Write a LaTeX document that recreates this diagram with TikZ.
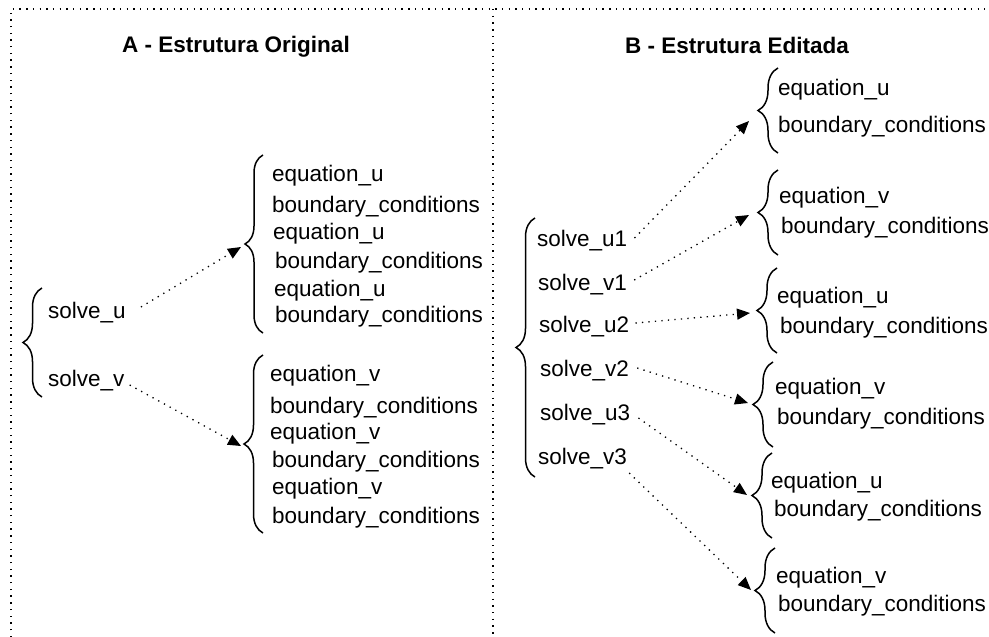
\documentclass[tikz,border=0pt]{standalone}
\usepackage{fontspec}
\setmainfont{Liberation Sans}
\usetikzlibrary{arrows.meta,decorations.pathreplacing}

\begin{document}
\begin{tikzpicture}[x=1pt,y=-1pt,
  lbl/.style={inner sep=0pt,anchor=west,text height=16pt,text depth=4pt,
    font=\fontsize{22.5}{27}\selectfont},
  ttl/.style={inner sep=0pt,font=\fontsize{22.5}{27}\selectfont\bfseries},
  frame/.style={line width=1.4pt,dash pattern=on 1.4pt off 5.3pt},
  conn/.style={line width=1.3pt,dash pattern=on 1.3pt off 5.2pt,
    -{Triangle[length=13pt,width=11pt]}},
  curly/.style={line width=1.5pt,decorate,
    decoration={brace,amplitude=#1,raise=0pt}},
  curly/.default=19pt]

\useasboundingbox (0,0) rectangle (989,637);

% dotted frame and panel divider
\draw[frame] (11,637) -- (11,9) -- (985,9);
\draw[frame] (493,9) -- (493,637);

% ---------- panel A ----------
\node[ttl] (ta) at (236,47) {A - Estrutura Original};

\draw[curly] (42,397) -- (42,288);
\node[lbl] (su) at (48,312) {solve\_u};
\node[lbl] (sv) at (48,380) {solve\_v};

\draw[curly=18pt] (263,333) -- (263,155);
\coordinate (tua) at (241,247);
\node[lbl] (a1) at (272,175) {equation\_u};
\node[lbl] (a2) at (272,206) {boundary\_conditions};
\node[lbl] (a3) at (273,233) {equation\_u};
\node[lbl] (a4) at (275,262) {boundary\_conditions};
\node[lbl] (a5) at (274,290) {equation\_u};
\node[lbl] (a6) at (275,316) {boundary\_conditions};

\draw[curly=19pt] (263,533) -- (263,355);
\coordinate (tva) at (241,446);
\node[lbl] (b1) at (270,375) {equation\_v};
\node[lbl] (b2) at (270,407) {boundary\_conditions};
\node[lbl] (b3) at (270,433) {equation\_v};
\node[lbl] (b4) at (272,461) {boundary\_conditions};
\node[lbl] (b5) at (272,488) {equation\_v};
\node[lbl] (b6) at (272,517) {boundary\_conditions};

\draw[conn] ([shift={(15,-5)}]su.east) -- (tua);
\draw[conn] ([shift={(5,5)}]sv.east) -- (tva);

% ---------- panel B ----------
\node[ttl] (tb) at (737,45) {B - Estrutura Editada};

\draw[curly] (535,477) -- (535,218);
\node[lbl] (s1) at (537,240) {solve\_u1};
\node[lbl] (s2) at (538,284) {solve\_v1};
\node[lbl] (s3) at (539,326) {solve\_u2};
\node[lbl] (s4) at (540,370) {solve\_v2};
\node[lbl] (s5) at (540,414) {solve\_u3};
\node[lbl] (s6) at (538,458) {solve\_v3};

% six target groups: brace back x, top, bottom, text x (two lines)
\draw[curly=20pt] (778,153) -- (778,68);
\node[lbl] (c1) at (778,89) {equation\_u};
\node[lbl] (d1) at (778,126) {boundary\_conditions};
\coordinate (e1) at (749,121);

\draw[curly=20pt] (778,255) -- (778,170);
\node[lbl] (c2) at (779,197) {equation\_v};
\node[lbl] (d2) at (781,227) {boundary\_conditions};
\coordinate (e2) at (749,215);

\draw[curly=20pt] (777,353) -- (777,268);
\node[lbl] (c3) at (777,297) {equation\_u};
\node[lbl] (d3) at (780,327) {boundary\_conditions};
\coordinate (e3) at (750,313);

\draw[curly=20pt] (773,447) -- (773,362);
\node[lbl] (c4) at (775,388) {equation\_v};
\node[lbl] (d4) at (777,418) {boundary\_conditions};
\coordinate (e4) at (748,403);

\draw[curly=20pt] (772,538) -- (772,453);
\node[lbl] (c5) at (771,482) {equation\_u};
\node[lbl] (d5) at (774,510) {boundary\_conditions};
\coordinate (e5) at (747,495);

\draw[curly=20pt] (775,633) -- (775,548);
\node[lbl] (c6) at (776,577) {equation\_v};
\node[lbl] (d6) at (778,605) {boundary\_conditions};
\coordinate (e6) at (751,590);

\draw[conn] ([shift={(7,-2)}]s1.east) -- (e1);
\draw[conn] ([shift={(7,-4)}]s2.east) -- (e2);
\draw[conn] ([shift={(6,-3)}]s3.east) -- (e3);
\draw[conn] ([shift={(8,-2)}]s4.east) -- (e4);
\draw[conn] ([shift={(8,4)}]s5.east) -- (e5);
\draw[conn] ([shift={(2,15)}]s6.east) -- (e6);

\end{tikzpicture}
\end{document}
